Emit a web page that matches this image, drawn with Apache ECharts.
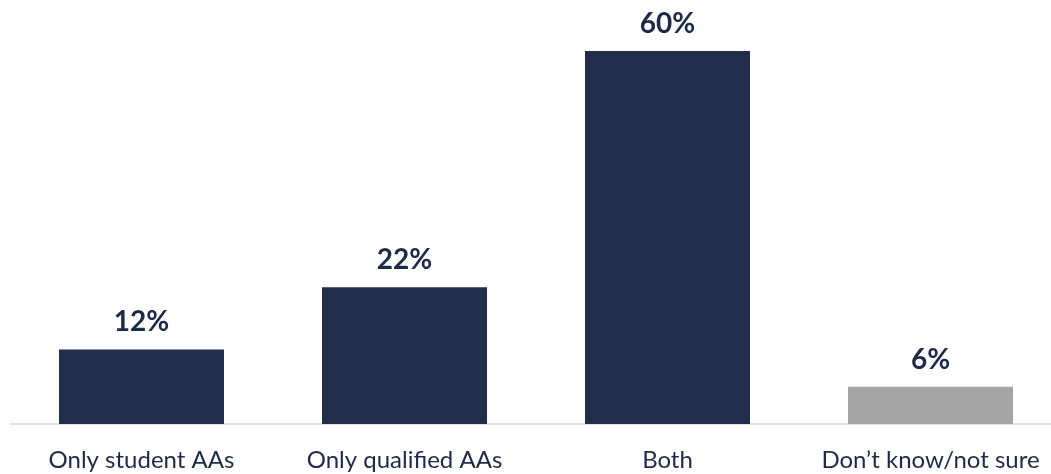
<!DOCTYPE html>
<html>
<head>
<meta charset="utf-8">
<script src="https://cdn.jsdelivr.net/npm/echarts@6/dist/echarts.min.js"></script>
<style>
  html, body { margin: 0; padding: 0; background: #ffffff; }
  #chart { width: 1051px; height: 474px; }
</style>
</head>
<body>
<div id="chart"></div>
<script>
// Survey responses: which kind of AAs are used
const categories = ['Only student AAs', 'Only qualified AAs', 'Both', 'Don\u2019t know/not sure'];
const shares = [12, 22, 60, 6];
const barColors = ['#222d4b', '#222d4b', '#222d4b', '#a5a5a5'];

const chart = echarts.init(document.getElementById('chart'), null, { renderer: 'canvas' });

chart.setOption({
  backgroundColor: '#ffffff',
  animation: false,
  grid: {
    left: 10, top: 51, width: 1052, bottom: 50,
    containLabel: false,
    outerBoundsMode: 'none'
  },
  xAxis: {
    type: 'category',
    data: categories,
    axisLine: { show: true, lineStyle: { color: '#d9d9d9', width: 1.5 } },
    axisTick: { show: false },
    axisLabel: {
      interval: 0,
      margin: 24,
      color: '#1f2a48',
      fontFamily: 'Lato',
      fontSize: 24
    }
  },
  yAxis: {
    type: 'value',
    min: 0,
    max: 60,
    show: false,
    splitLine: { show: false }
  },
  series: [{
    type: 'bar',
    barWidth: 165,
    data: shares.map((v, i) => ({ value: v, itemStyle: { color: barColors[i] } })),
    label: {
      show: true,
      position: 'top',
      distance: 13,
      formatter: p => p.value + '%',
      color: '#1f2a48',
      fontFamily: 'Lato',
      fontWeight: 'bold',
      fontSize: 28
    }
  }]
});
</script>
</body>
</html>
